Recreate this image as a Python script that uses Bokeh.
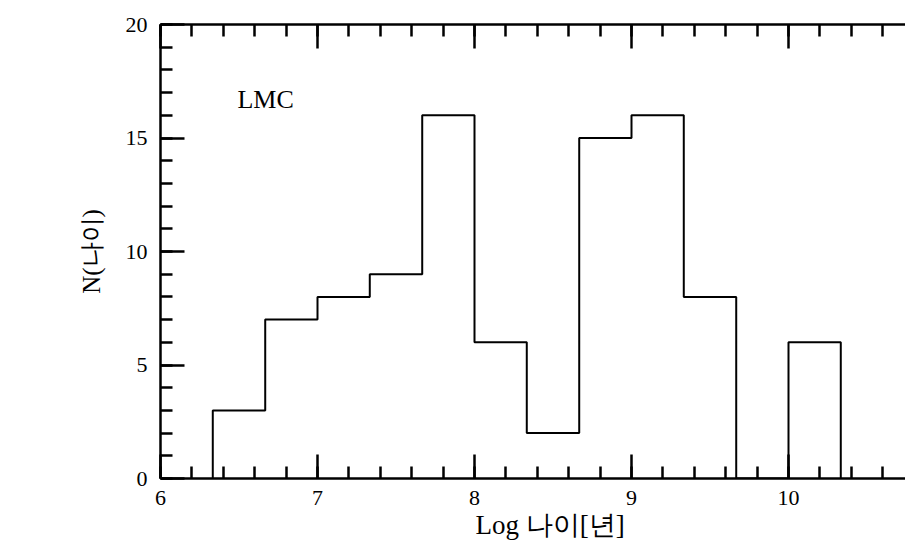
import math
from bokeh.plotting import figure
from bokeh.models import Range1d, LinearAxis, SingleIntervalTicker, Label, CustomJSTickFormatter, Title
from bokeh.embed import file_html
from bokeh.resources import INLINE

# ---- data ----
bin_edges = [6.333, 6.667, 7.0, 7.333, 7.667, 8.0, 8.333, 8.667, 9.0, 9.333, 9.667, 10.0, 10.333]
counts = [3, 7, 8, 9, 16, 6, 2, 15, 16, 8, 0, 6]
x_label = "Log  나이[년]"
y_label = "N(나이)"
panel_label = "LMC"

SERIF = "Liberation Serif"
LW = 2.5

# step outline built from the bins
xs = [bin_edges[0]]
ys = [0]
for i, c in enumerate(counts):
    xs += [bin_edges[i], bin_edges[i + 1]]
    ys += [c, c]
xs.append(bin_edges[-1])
ys.append(0)

p = figure(width=905, height=545, output_backend="svg", toolbar_location=None,
           x_range=Range1d(6, 6 + 745 / 157), y_range=Range1d(0, 20),
           min_border_left=160, min_border_right=0, min_border_top=24, min_border_bottom=67)
p.outline_line_color = None
p.xgrid.visible = False
p.ygrid.visible = False
p.background_fill_color = "white"
p.border_fill_color = "white"

p.line(xs, ys, line_color="black", line_width=2)

def style_axis(ax):
    ax.axis_line_width = LW
    ax.axis_line_color = "black"
    ax.major_tick_line_width = LW
    ax.minor_tick_line_width = LW
    ax.major_tick_line_color = "black"
    ax.minor_tick_line_color = "black"
    ax.major_tick_in = 24
    ax.major_tick_out = 0
    ax.minor_tick_in = 12
    ax.minor_tick_out = 0
    ax.major_label_text_font = SERIF
    ax.major_label_text_font_size = "22px"
    ax.major_label_text_color = "black"
    ax.axis_label_text_font = SERIF
    ax.axis_label_text_font_style = "normal"
    ax.axis_label_text_color = "black"

xax = p.xaxis[0]
xax.ticker = SingleIntervalTicker(interval=1, num_minor_ticks=5)
style_axis(xax)
xax.major_label_standoff = 12

# x-axis title: the original frame runs past the window, so its label sits right of centre
p.add_layout(Title(text=x_label, align="left", offset=315, standoff=0,
                   text_font=SERIF, text_font_size="27px", text_font_style="normal",
                   text_color="black"), "below")

yax = p.yaxis[0]
yax.ticker = SingleIntervalTicker(interval=5, num_minor_ticks=5)
style_axis(yax)
yax.major_label_standoff = 13
yax.axis_label = y_label
yax.axis_label_text_font_size = "25px"
yax.axis_label_standoff = 18

top = LinearAxis(ticker=SingleIntervalTicker(interval=1, num_minor_ticks=5),
                 formatter=CustomJSTickFormatter(code="return ''"))
style_axis(top)
top.major_label_text_font_size = "0px"
top.major_label_standoff = 0
p.add_layout(top, "above")

p.add_layout(Label(x=6.49, y=16.7, text=panel_label, text_font=SERIF, text_font_size="26px",
                   text_baseline="middle", text_align="left", text_color="black"))

open("out.html", "w").write(file_html(p, INLINE))
